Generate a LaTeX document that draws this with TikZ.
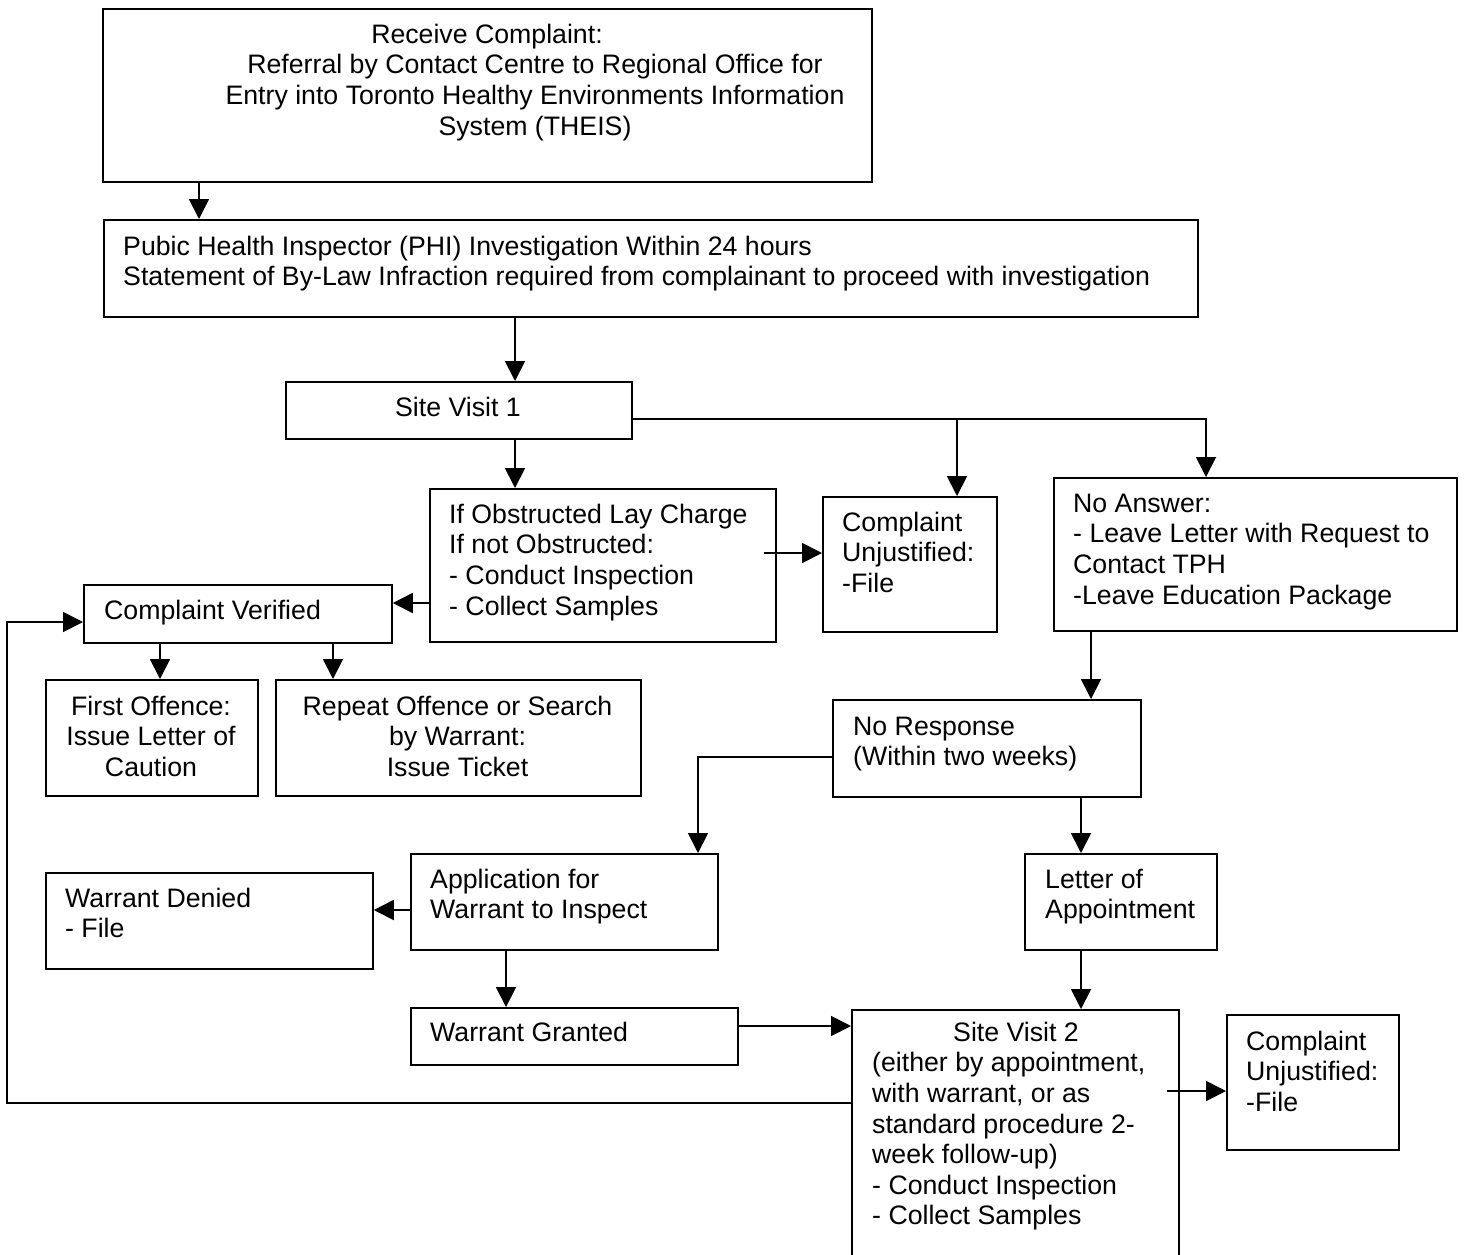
\documentclass[tikz,border=0pt]{standalone}
\usepackage{fontspec}
\setmainfont{Liberation Sans}
\usetikzlibrary{arrows.meta}
\newcommand\flowfont{\fontsize{26.7pt}{30.6pt}\selectfont}
\newcommand\mkbox[5]{\node[flowbox,minimum width={(#4)-(#2)},minimum height={(#5)-(#3)}] (#1) at (#2,#3) {};}
\tikzset{
  flowbox/.style={draw,line width=1.8pt,anchor=north west,inner sep=0pt},
  arr/.style={line width=1.8pt,-{Triangle[length=20pt,width=20pt]}},
  ln/.style={line width=1.8pt},
  txt/.style={font=\flowfont,inner sep=0pt,align=left,anchor=north west},
  ctxt/.style={font=\flowfont,inner sep=0pt,align=center,anchor=north}
}
\begin{document}
\begin{tikzpicture}[x=1pt,y=-1pt]
\fill[white] (0,0) rectangle (1466,1254);
\useasboundingbox (0,0) rectangle (1466,1254);
% boxes
\mkbox{b1}{102}{8}{871}{181}
\mkbox{b2}{103}{219}{1197}{316}
\mkbox{sv1}{285}{381}{631}{438}
\mkbox{obs}{429}{488}{775}{641}
\mkbox{cu1}{822}{496}{996}{631}
\mkbox{na}{1053}{477}{1456}{630}
\mkbox{cv}{83}{584}{391}{642}
\mkbox{fo}{45}{679}{257}{795}
\mkbox{ro}{275}{679}{640}{795}
\mkbox{nr}{832}{699}{1140}{796}
\mkbox{app}{410}{853}{717}{949}
\mkbox{loa}{1024}{853}{1216}{949}
\mkbox{wd}{45}{872}{372}{968}
\mkbox{wg}{410}{1007}{737}{1064}
\mkbox{sv2}{851}{1009}{1178}{1290}
\mkbox{cu2}{1226}{1014}{1398}{1149}
% texts
\node[ctxt] (t1) at (535,21.6) {\strut Receive Complaint:\hspace*{96pt}\null\\Referral by Contact Centre to Regional Office for\\Entry into Toronto Healthy Environments Information\\System (THEIS)};
\node[txt] (t2) at (123,233.6) {\strut Pubic Health Inspector (PHI) Investigation Within 24 hours\\Statement of By-Law Infraction required from complainant to proceed with investigation};
\node[ctxt] (tsv1) at (458,394.6) {\strut Site Visit 1};
\node[txt] (tobs) at (449,501.6) {\strut If Obstructed Lay Charge\\If not Obstructed:\\- Conduct Inspection\\- Collect Samples};
\node[txt] (tcu1) at (842,509.6) {\strut Complaint\\Unjustified:\\-File};
\node[txt] (tna) at (1073,490.6) {\strut No Answer:\\- Leave Letter with Request to\\Contact TPH\\-Leave Education Package};
\node[txt] (tcv) at (104,597.6) {\strut Complaint Verified};
\node[ctxt] (tfo) at (151,693.6) {\strut First Offence:\\Issue Letter of\\Caution};
\node[ctxt] (tro) at (457.5,693.6) {\strut Repeat Offence or Search\\by Warrant:\\Issue Ticket};
\node[txt] (tnr) at (853,713.6) {\strut No Response\\(Within two weeks)};
\node[txt] (tapp) at (430,866.6) {\strut Application for\\Warrant to Inspect};
\node[txt] (tloa) at (1045,866.6) {\strut Letter of\\Appointment};
\node[txt] (twd) at (65,885.6) {\strut Warrant Denied\\- File};
\node[txt] (twg) at (430,1019.6) {\strut Warrant Granted};
\node[txt] (tsv2) at (872,1019.6) {\strut\hspace*{81pt}Site Visit 2\\(either by appointment,\\with warrant, or as\\standard procedure 2-\\week follow-up)\\- Conduct Inspection\\- Collect Samples};
\node[txt] (tcu2) at (1246,1028.6) {\strut Complaint\\Unjustified:\\-File};
% connector helper coordinates
\coordinate (jsplit) at (957,419);
\coordinate (jright) at (1206,419);
\coordinate (obsout) at (764,553);
\coordinate (nrturn) at (698,757);
\coordinate (sv2out) at (1167,1091);
\coordinate (fbA) at (7,1103);
\coordinate (fbB) at (7,622);
% connectors
\draw[arr] (b1.south -| 199,0) -- (b2.north -| 199,0);
\draw[arr] (b2.south -| 515,0) -- (sv1.north -| 515,0);
\draw[arr] (sv1.south -| 515,0) -- (obs.north -| 515,0);
\draw[ln] (sv1.east |- jsplit) -- (jsplit);
\draw[arr] (jsplit) -- (cu1.north -| jsplit);
\draw[arr] (jsplit) -- (jright) -- (na.north -| jright);
\draw[arr] (obsout) -- (cu1.west |- obsout);
\draw[arr] (obs.west |- 0,603) -- (cv.east |- 0,603);
\draw[arr] (cv.south -| 160,0) -- (fo.north -| 160,0);
\draw[arr] (cv.south -| 333,0) -- (ro.north -| 333,0);
\draw[arr] (na.south -| 1091,0) -- (nr.north -| 1091,0);
\draw[arr] (nr.west |- nrturn) -- (nrturn) -- (app.north -| nrturn);
\draw[arr] (nr.south -| 1081,0) -- (loa.north -| 1081,0);
\draw[arr] (app.west |- 0,910) -- (wd.east |- 0,910);
\draw[arr] (app.south -| 506,0) -- (wg.north -| 506,0);
\draw[arr] (wg.east |- 0,1026) -- (sv2.west |- 0,1026);
\draw[arr] (loa.south -| 1081,0) -- (sv2.north -| 1081,0);
\draw[arr] (sv2out) -- (cu2.west |- sv2out);
\draw[arr] (sv2.west |- fbA) -- (fbA) -- (fbB) -- (cv.west |- fbB);
\end{tikzpicture}
\end{document}
